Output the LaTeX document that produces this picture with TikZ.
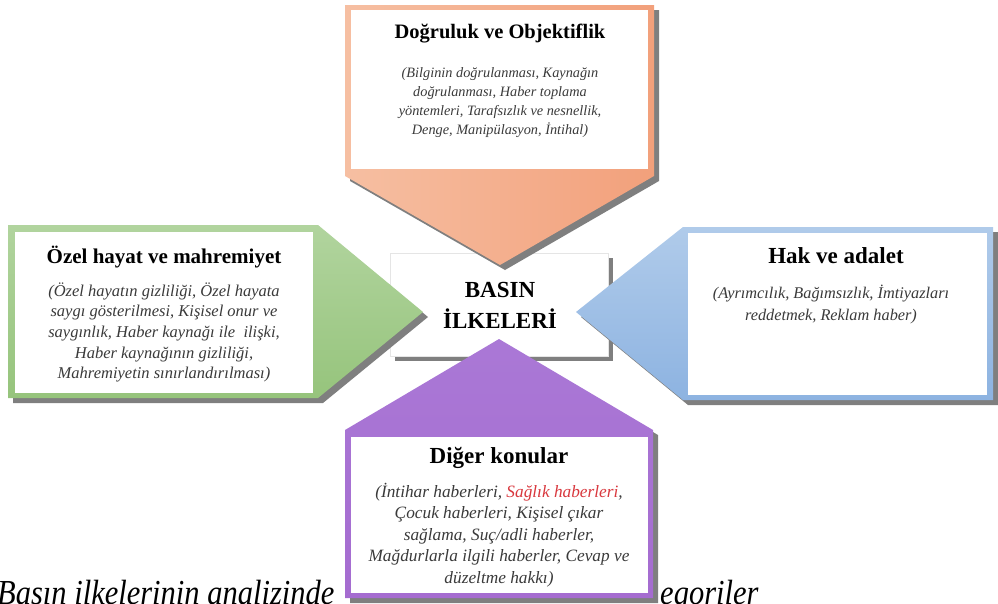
\documentclass[tikz,border=0pt]{standalone}
\usepackage{fontspec}
\setmainfont{Liberation Serif}

\definecolor{shadowgray}{HTML}{7F7F7F}
\definecolor{orangeL}{HTML}{F6BFA2}
\definecolor{orangeR}{HTML}{F2A07B}
\definecolor{greenT}{HTML}{B1D49E}
\definecolor{greenB}{HTML}{96C47C}
\definecolor{blueT}{HTML}{B0CBEA}
\definecolor{blueB}{HTML}{8DB3E1}
\definecolor{purpleT}{HTML}{AA78D6}
\definecolor{purpleB}{HTML}{A56CD0}
\definecolor{bodygray}{HTML}{3A3A3A}
\definecolor{redtext}{HTML}{D9383E}

\tikzset{
  shadowfill/.style={fill=shadowgray},
  panel/.style={fill=white},
  heading/.style={font=\fontsize{#1}{#1}\selectfont\bfseries, inner sep=0, anchor=base},
  bodytext/.style 2 args={font=\fontsize{#1}{#2}\selectfont\itshape, text=bodygray,
    align=center, inner sep=0, anchor=north},
  captiontext/.style={font=\fontsize{30.5}{30.5}\selectfont\itshape, inner sep=0, anchor=base west},
}

\begin{document}
\begin{tikzpicture}[x=1pt,y=-1pt]
\useasboundingbox (0,0) rectangle (998,603);
\clip (0,0) rectangle (998,603);

% caption line behind the lower panel
\node[captiontext] (capA) at (-3,604) {\scalebox{1}[1.15]{Basın ilkelerinin analizinde}};
\node[captiontext] (capB) at (660,604) {\scalebox{1}[1.15]{egoriler}};

% central box
\fill[shadowfill] (395,258) rectangle (613,361);
\filldraw[fill=white, draw=black!10] (390,253) rectangle (608,356);
\node[heading=23] (hub) at (500,297) {BASIN};
\node[heading=23] (hub2) at (500,328) {İLKELERİ};

% top panel (pointing down)
\fill[shadowfill, shift={(5,5)}] (345,5) -- (654,5) -- (654,176) -- (500,265) -- (345,176) -- cycle;
\shade[left color=orangeL, right color=orangeR] (345,5) -- (654,5) -- (654,176) -- (500,265) -- (345,176) -- cycle;
\fill[panel] (351,10) rectangle (648,169);
\node[heading=20.5] (truth) at (500,38) {Doğruluk ve Objektiflik};
\node[bodytext={14.3}{18.9}] (truthB) at (500,63.9) {\strut(Bilginin doğrulanması, Kaynağın\\
  \strut doğrulanması, Haber toplama\\
  \strut yöntemleri, Tarafsızlık ve nesnellik,\\
  \strut Denge, Manipülasyon, İntihal)};

% left panel (pointing right)
\fill[shadowfill, shift={(5,5)}] (8,225) -- (318,225) -- (423,312) -- (318,398) -- (8,398) -- cycle;
\shade[top color=greenT, bottom color=greenB] (8,225) -- (318,225) -- (423,312) -- (318,398) -- (8,398) -- cycle;
\fill[panel] (15,232) rectangle (313,393);
\node[heading=21] (privacy) at (164,263) {Özel hayat ve mahremiyet};
\node[bodytext={16.5}{20.6}] (privacyB) at (164,281.6) {\strut(Özel hayatın gizliliği, Özel hayata\\
  \strut saygı gösterilmesi, Kişisel onur ve\\
  \strut saygınlık, Haber kaynağı ile~ ilişki,\\
  \strut Haber kaynağının gizliliği,\\
  \strut Mahremiyetin sınırlandırılması)};

% right panel (pointing left)
\fill[shadowfill, shift={(5,5)}] (993,227) -- (683,227) -- (576,312) -- (683,400) -- (993,400) -- cycle;
\shade[top color=blueT, bottom color=blueB] (993,227) -- (683,227) -- (576,312) -- (683,400) -- (993,400) -- cycle;
\fill[panel] (688,233) rectangle (987,395);
\node[heading=23] (justice) at (836,263) {Hak ve adalet};
\node[bodytext={16.3}{22}] (justiceB) at (831,283.2) {\strut(Ayrımcılık, Bağımsızlık, İmtiyazları\\
  \strut reddetmek, Reklam haber)};

% bottom panel (pointing up)
\fill[shadowfill, shift={(5,5)}] (345,598) -- (345,430) -- (499,339) -- (653,430) -- (653,598) -- cycle;
\shade[top color=purpleT, bottom color=purpleB] (345,598) -- (345,430) -- (499,339) -- (653,430) -- (653,598) -- cycle;
\fill[panel] (351,437) rectangle (648,593);
\node[heading=23] (other) at (499,463) {Diğer konular};
\node[bodytext={17.3}{21.5}] (otherB) at (499,482) {\strut(İntihar haberleri, \textcolor{redtext}{Sağlık haberleri},\\
  \strut Çocuk haberleri, Kişisel çıkar\\
  \strut sağlama, Suç/adli haberler,\\
  \strut Mağdurlarla ilgili haberler, Cevap ve\\
  \strut düzeltme hakkı)};

\end{tikzpicture}
\end{document}
